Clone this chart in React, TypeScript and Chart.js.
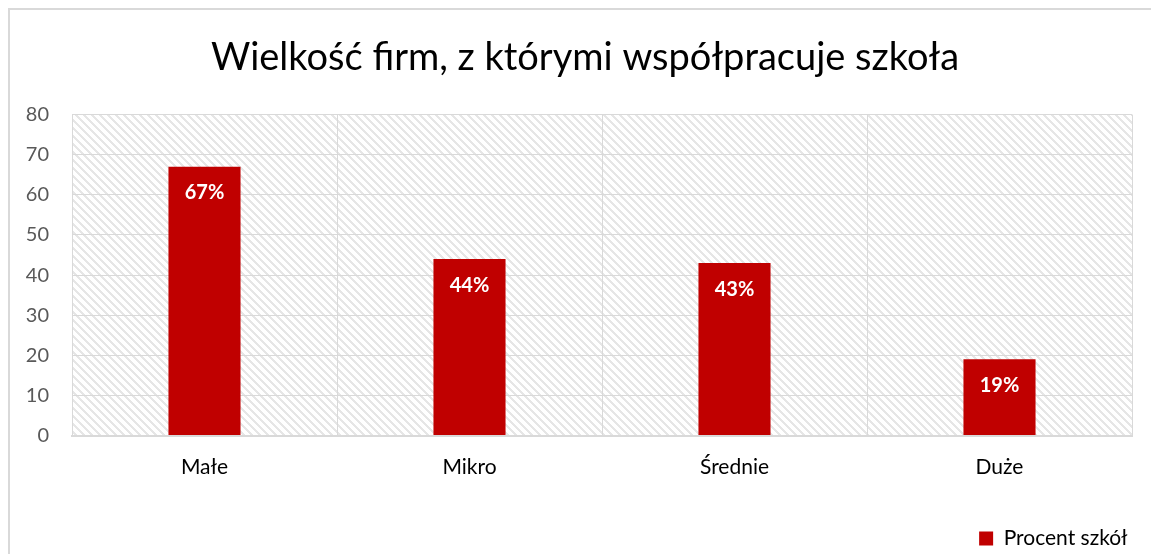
import React, { useEffect, useRef } from "react";
import { Chart, registerables } from "chart.js";

Chart.register(...registerables);

const TITLE = "Wielkość firm, z którymi współpracuje szkoła";
const CATEGORIES = ["Małe", "Mikro", "Średnie", "Duże"];
const SERIES_NAME = "Procent szkół";
const VALUES = [67, 44, 43, 19];
const Y_MIN = 0;
const Y_MAX = 80;
const Y_STEP = 10;

const BAR_COLOR = "#C00000";
const GRID_COLOR = "#d9d9d9";
const FONT = "Lato, 'Open Sans', sans-serif";

function makePattern(ctx: CanvasRenderingContext2D) {
  const c = document.createElement("canvas");
  c.width = 8;
  c.height = 8;
  const p = c.getContext("2d")!;
  p.fillStyle = "#ffffff";
  p.fillRect(0, 0, 8, 8);
  p.fillStyle = "#e6e6e6";
  for (let y = 0; y < 8; y++) {
    for (let x = 0; x < 8; x++) {
      if ((x - y + 16) % 8 < 3) p.fillRect(x, y, 1, 1);
    }
  }
  return ctx.createPattern(c, "repeat");
}

const hatchPlugin = {
  id: "hatchBg",
  beforeDraw(chart: any) {
    const { ctx, chartArea } = chart;
    if (!chartArea) return;
    ctx.save();
    const pat = makePattern(ctx);
    if (pat) ctx.fillStyle = pat;
    ctx.fillRect(chartArea.left, chartArea.top, chartArea.right - chartArea.left, chartArea.bottom - chartArea.top);
    ctx.restore();
  },
};

const labelPlugin = {
  id: "barLabels",
  afterDatasetsDraw(chart: any) {
    const { ctx } = chart;
    const meta = chart.getDatasetMeta(0);
    ctx.save();
    ctx.fillStyle = "#ffffff";
    ctx.font = `bold 20px ${FONT}`;
    ctx.textAlign = "center";
    ctx.textBaseline = "middle";
    meta.data.forEach((bar: any, i: number) => {
      ctx.fillText(`${VALUES[i]}%`, bar.x, bar.y + 26);
    });
    ctx.restore();
  },
};

export default function App() {
  const ref = useRef<HTMLCanvasElement | null>(null);
  useEffect(() => {
    if (!ref.current) return;
    const chart = new Chart(ref.current, {
      type: "bar",
      data: {
        labels: CATEGORIES,
        datasets: [
          {
            label: SERIES_NAME,
            data: VALUES,
            backgroundColor: BAR_COLOR,
            borderWidth: 0,
            categoryPercentage: 1,
            barPercentage: 0.272,
            yAxisID: "y",
          },
        ],
      },
      options: {
        animation: false,
        responsive: false,
        maintainAspectRatio: false,
        layout: { padding: 0 },
        plugins: {
          tooltip: { enabled: false },
          title: {
            display: true,
            text: TITLE,
            color: "#000000",
            font: { family: FONT, size: 38, weight: "normal" },
            padding: { top: 25, bottom: 34 },
          },
          legend: {
            display: true,
            position: "bottom",
            align: "end",
            fullSize: false,
            labels: {
              color: "#000000",
              font: { family: FONT, size: 21 },
              boxWidth: 14,
              boxHeight: 14,
              padding: 4.4,
            },
          },
        },
        scales: {
          x: {
            grid: { color: GRID_COLOR, lineWidth: 1, drawTicks: false, offset: true },
            border: { color: GRID_COLOR, width: 2 },
            ticks: { color: "#000000", font: { family: FONT, size: 21 }, padding: 19 },
            afterFit: (s: any) => { s.height = 88; },
          },
          y: {
            min: Y_MIN,
            max: Y_MAX,
            grid: { color: GRID_COLOR, lineWidth: 1, drawTicks: false },
            border: { display: false },
            ticks: { stepSize: Y_STEP, color: "#595959", font: { family: FONT, size: 20 }, padding: 23 },
            afterFit: (s: any) => { s.width = 62; },
          },
          yR: {
            position: "right",
            display: true,
            grid: { display: false, drawTicks: false },
            border: { display: false },
            ticks: { display: false },
            afterFit: (s: any) => { s.width = 28; },
          },
        },
      },
      plugins: [hatchPlugin, labelPlugin],
    });
    return () => chart.destroy();
  }, []);
  return (
    <div
      style={{
        position: "fixed",
        left: 8,
        top: 8,
        width: 1152,
        height: 551,
        borderTop: "2px solid #d9d9d9",
        borderLeft: "2px solid #d9d9d9",
        boxSizing: "border-box",
        overflow: "hidden",
      }}
    >
      <canvas ref={ref} width={1150} height={549} style={{ display: "block" }} />
    </div>
  );
}
